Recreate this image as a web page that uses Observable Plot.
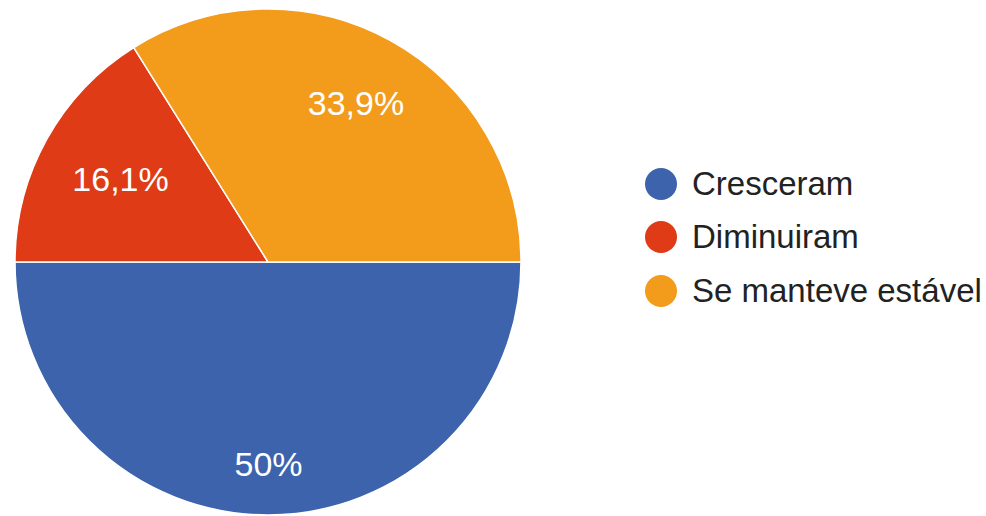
<!DOCTYPE html>
<html>
<head>
<meta charset="utf-8">
<script src="https://cdn.jsdelivr.net/npm/d3@7"></script>
<script src="https://cdn.jsdelivr.net/npm/@observablehq/plot@0.6"></script>
<style>
  html, body { margin: 0; padding: 0; background: #fff; }
  #wrap { position: relative; width: 986px; height: 516px; overflow: hidden; font-family: "Liberation Sans", Arial, sans-serif; }
  #chart { position: absolute; left: 0; top: 0; }
  #legend { position: absolute; left: 645px; top: 157px; }
  .item { display: flex; align-items: center; height: 53.5px; }
  .sw { width: 32px; height: 32px; border-radius: 50%; margin-right: 15px; flex: none; }
  .lb { font-size: 33px; color: #222; white-space: nowrap; }
</style>
</head>
<body>
<div id="wrap"><div id="chart"></div><div id="legend"></div></div>
<script>
const categories = ["Cresceram", "Diminuiram", "Se manteve estável"];
const values = [50, 16.1, 33.9];
const labels = ["50%", "16,1%", "33,9%"];
const colors = ["#3c63ab", "#de3b16", "#f39b1a"];

const data = categories.map((c, i) => ({category: c, value: values[i], label: labels[i], color: colors[i]}));

// start at 3 o'clock, go clockwise (d3 angles: 0 = 12 o'clock, clockwise)
const pie = d3.pie().value(d => d.value).sort(null).startAngle(Math.PI / 2).endAngle(Math.PI / 2 + 2 * Math.PI);
const arcs = pie(data);
const mid = a => (a.startAngle + a.endAngle) / 2;

const W = 540, H = 516, X0 = 15, X1 = 521, Y0 = 515, Y1 = 9;
const Rpx = (X1 - X0) / 2;
const labelSize = 34;
const labelFont = `${labelSize}px "Liberation Sans", Arial, sans-serif`;
const ctx = document.createElement("canvas").getContext("2d");
ctx.font = labelFont;

// Google-style placement: the label box's outer corner sits on a fixed radius
const outerFrac = 0.86;
function labelPos(a) {
  const ang = mid(a);
  const ux = Math.sin(ang), uy = Math.cos(ang); // data units, y up
  const hw = ctx.measureText(a.data.label).width / 2 / Rpx;
  const hh = 0.716 * labelSize / 2 / Rpx;
  const cx = Math.sign(ux) * hw, cy = Math.sign(uy) * hh;
  const b = ux * cx + uy * cy;
  const c = cx * cx + cy * cy - outerFrac * outerFrac;
  const d = -b + Math.sqrt(b * b - c);
  return [d * ux, d * uy];
}
arcs.forEach(a => { a.pos = labelPos(a); });

function slices(index, scales) {
  const cx = scales.x(0), cy = scales.y(0);
  const r = Math.abs(scales.x(1) - scales.x(0));
  const arcGen = d3.arc().innerRadius(0).outerRadius(r);
  const g = d3.create("svg:g").attr("transform", `translate(${cx},${cy})`);
  g.selectAll("path").data(arcs).join("path")
    .attr("d", arcGen)
    .attr("fill", d => d.data.color)
    .attr("stroke", "#fff")
    .attr("stroke-width", 1.5)
    .attr("stroke-linejoin", "round");
  return g.node();
}

const plot = Plot.plot({
  width: W,
  height: H,
  margin: 0,
  x: {domain: [-1, 1], range: [X0, X1], axis: null},
  y: {domain: [-1, 1], range: [Y0, Y1], axis: null},
  marks: [
    slices,
    Plot.text(arcs, {
      x: a => a.pos[0],
      y: a => a.pos[1],
      text: a => a.data.label,
      fill: "white",
      fontSize: labelSize,
      fontFamily: "Liberation Sans, Arial, sans-serif",
      textAnchor: "middle",
      lineAnchor: "middle"
    })
  ]
});
document.getElementById("chart").appendChild(plot);

const legend = d3.select("#legend");
data.forEach(d => {
  const it = legend.append("div").attr("class", "item");
  it.append("div").attr("class", "sw").style("background", d.color);
  it.append("div").attr("class", "lb").text(d.category);
});
</script>
</body>
</html>
